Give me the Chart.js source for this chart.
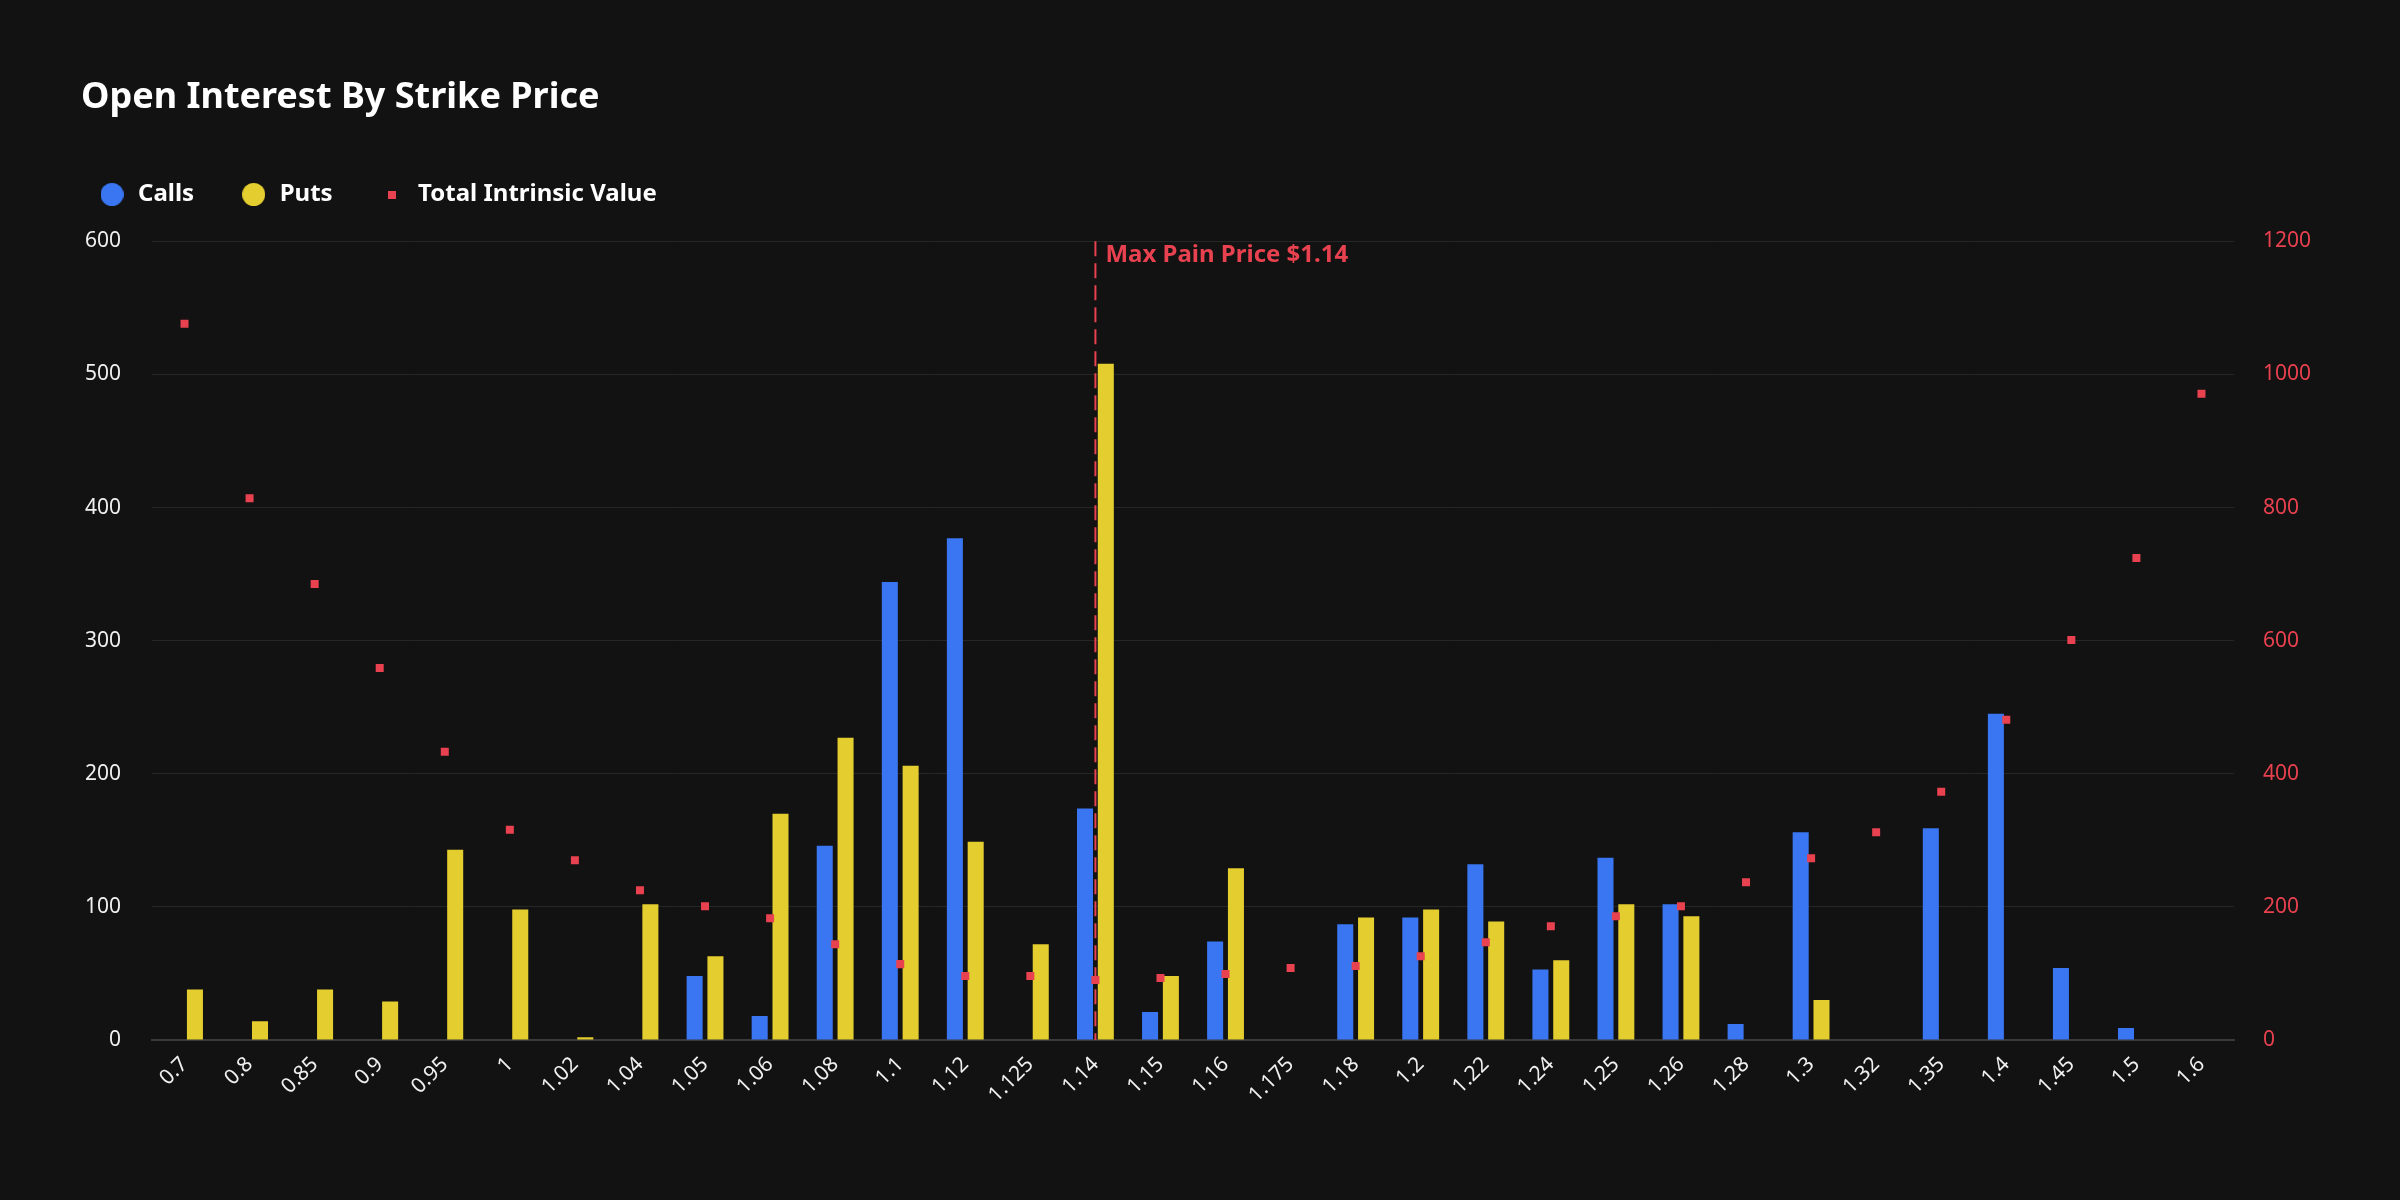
<!DOCTYPE html>
<html>
<head>
<meta charset="utf-8">
<script src="https://cdn.jsdelivr.net/npm/chart.js@4.4.1/dist/chart.umd.min.js"></script>
<style>
  html, body { margin: 0; padding: 0; background: #121212; }
  #wrap { width: 2400px; height: 1200px; position: relative; }
</style>
</head>
<body>
<div id="wrap"><canvas id="c"></canvas></div>
<script>
// ---- data ----
const strikes = ['0.7','0.8','0.85','0.9','0.95','1','1.02','1.04','1.05','1.06','1.08','1.1','1.12','1.125','1.14','1.15','1.16','1.175','1.18','1.2','1.22','1.24','1.25','1.26','1.28','1.3','1.32','1.35','1.4','1.45','1.5','1.6'];
const calls = [0,0,0,0,0,0,0,0,48,18,146,344,377,0,174,21,74,0,87,92,132,53,137,102,12,156,0,159,245,54,9,0];
const puts = [38,14,38,29,143,98,2,102,63,170,227,206,149,72,508,48,129,0,92,98,89,60,102,93,0,30,0,0,0,0,0,0];
const intrinsic = [1076,814,685,559,433,316,270,225,201,183,144,114,96,96,90,93,99,108,111,126,147,171,186,201,237,273,312,373,481,601,724,971];
const maxPainStrike = '1.14';
const maxPainLabel = 'Max Pain Price $1.14';
const titleText = 'Open Interest By Strike Price';
const seriesNames = ['Calls', 'Puts', 'Total Intrinsic Value'];

const BLUE = '#3a76f2', YELLOW = '#e4cd2f', RED = '#e8414f';
Chart.defaults.font.family = "'Noto Sans', sans-serif";

function icon(color, size, shape) {
  const c = document.createElement('canvas');
  c.width = size; c.height = size;
  const g = c.getContext('2d');
  g.fillStyle = color;
  if (shape === 'circle') { g.beginPath(); g.arc(size / 2, size / 2, size / 2, 0, Math.PI * 2); g.fill(); }
  else { g.fillRect(0, 0, size, size); }
  return c;
}
const legendIcons = [icon(BLUE, 23, 'circle'), icon(YELLOW, 23, 'circle'), icon(RED, 8, 'rect')];

const layoutTweaks = {
  id: 'layoutTweaks',
  beforeLayout(chart) {
    const lg = chart.legend;
    if (lg && !lg._gapPatched) {
      const fit = lg.fit;
      lg.fit = function () { fit.call(this); this.height += 24.8; };
      lg._gapPatched = true;
    }
  },
  afterLayout(chart) {
    if (chart.titleBlock) chart.titleBlock.left = 81;
  }
};

const maxPainPlugin = {
  id: 'maxPain',
  afterDatasetsDraw(chart) {
    const { ctx, chartArea, scales } = chart;
    const px = scales.x.getPixelForValue(strikes.indexOf(maxPainStrike));
    ctx.save();
    ctx.strokeStyle = RED;
    ctx.lineWidth = 2;
    ctx.setLineDash([15, 7]);
    ctx.beginPath();
    ctx.moveTo(px, chartArea.top);
    ctx.lineTo(px, chartArea.bottom);
    ctx.stroke();
    ctx.setLineDash([]);
    ctx.fillStyle = RED;
    ctx.font = "bold 24px 'Noto Sans'";
    ctx.textBaseline = 'middle';
    ctx.textAlign = 'left';
    ctx.fillText(maxPainLabel, px + 10, chartArea.top + 14);
    ctx.restore();
  }
};

new Chart(document.getElementById('c'), {
  type: 'bar',
  data: {
    labels: strikes,
    datasets: [
      { label: seriesNames[0], data: calls, backgroundColor: BLUE, borderWidth: 0, yAxisID: 'y', categoryPercentage: 0.64, barPercentage: 0.77 },
      { label: seriesNames[1], data: puts, backgroundColor: YELLOW, borderWidth: 0, yAxisID: 'y', categoryPercentage: 0.64, barPercentage: 0.77 },
      { label: seriesNames[2], type: 'line', data: intrinsic, yAxisID: 'y1', showLine: false, order: -1,
        pointStyle: 'rect', pointRadius: 5.66, pointHoverRadius: 5.66, pointBackgroundColor: RED, pointBorderWidth: 0,
        backgroundColor: RED, borderColor: RED }
    ]
  },
  options: {
    responsive: true,
    maintainAspectRatio: false,
    animation: false,
    layout: { padding: { left: 52.5, right: 60, top: 0, bottom: 0 } },
    plugins: {
      title: { display: true, text: titleText, align: 'start', color: '#ffffff',
        font: { size: 36, weight: 'bold' }, padding: { top: 76, bottom: 17.8 } },
      legend: {
        display: true, position: 'top', align: 'start',
        labels: {
          usePointStyle: true, pointStyleWidth: 28, color: '#ffffff',
          font: { size: 24, weight: 'bold' }, padding: 45.5,
          sort: (a, b) => a.datasetIndex - b.datasetIndex,
          generateLabels(chart) {
            const items = Chart.defaults.plugins.legend.labels.generateLabels(chart);
            items.forEach(it => { it.pointStyle = legendIcons[it.datasetIndex]; });
            return items;
          }
        }
      },
      tooltip: { enabled: false }
    },
    scales: {
      x: {
        grid: { display: false, drawTicks: false },
        border: { display: true, color: '#3a3a3a', width: 2 },
        ticks: { color: '#f0f0f0', font: { size: 21 }, minRotation: 45, maxRotation: 45, autoSkip: false, padding: 12 },
        afterFit(s) { s.height = 160; }
      },
      y: {
        position: 'left', min: 0, max: 600,
        ticks: { stepSize: 100, color: '#f0f0f0', font: { size: 21 }, padding: 31, callback: v => String(v) },
        grid: { color: '#262626', drawTicks: false },
        border: { display: false },
        afterFit(s) { s.width = 99.5; }
      },
      y1: {
        position: 'right', min: 0, max: 1200,
        ticks: { stepSize: 200, color: RED, font: { size: 21 }, padding: 29, callback: v => String(v) },
        grid: { display: false, drawTicks: false },
        border: { display: false },
        afterFit(s) { s.width = 106; }
      }
    }
  },
  plugins: [layoutTweaks, maxPainPlugin]
});
</script>
</body>
</html>
